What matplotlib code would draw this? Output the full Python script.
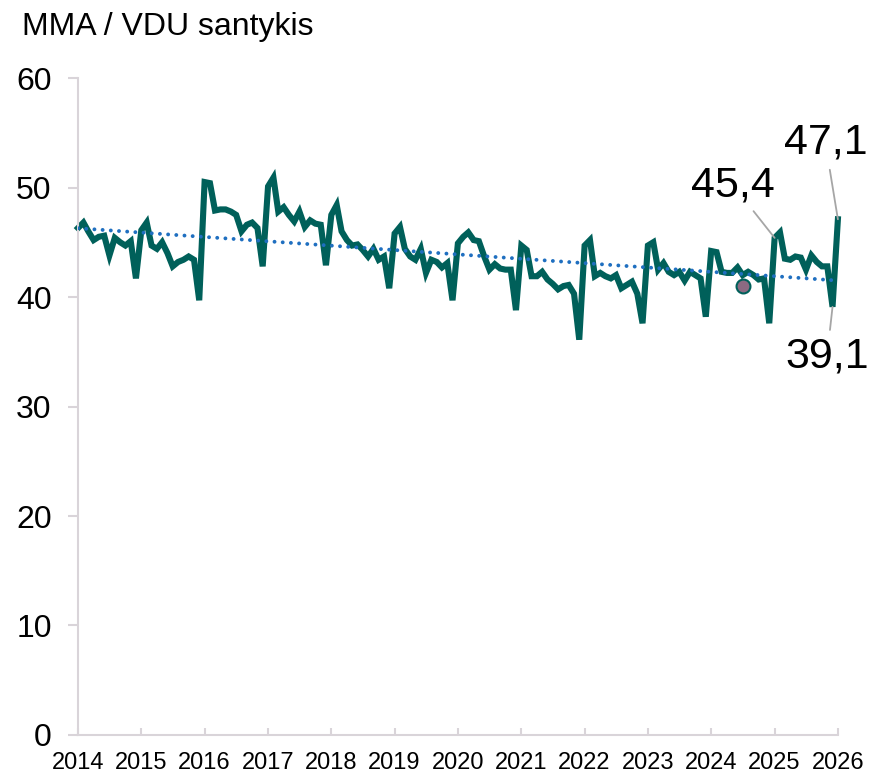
import matplotlib
matplotlib.use('Agg')
import matplotlib.pyplot as plt
import matplotlib.dates as mdates
import numpy as np
import pandas as pd

plt.rcParams['font.family'] = ['Liberation Sans', 'DejaVu Sans']

# monthly ratio, Jan 2014 .. Jan 2026
y2014 = [46.3, 46.8, 46.0, 45.2, 45.5, 45.6, 43.8, 45.4, 45.0, 44.7, 45.1, 41.7]
y2015 = [46.1, 46.8, 44.7, 44.4, 45.0, 44.0, 42.8, 43.2, 43.4, 43.7, 43.4, 39.7]
y2016 = [50.5, 50.4, 47.9, 48.0, 48.0, 47.8, 47.5, 46.0, 46.6, 46.8, 46.3, 42.8]
y2017 = [50.1, 50.9, 47.8, 48.2, 47.5, 46.9, 47.8, 46.4, 47.0, 46.7, 46.6, 42.9]
y2018 = [47.5, 48.4, 46.0, 45.2, 44.7, 44.8, 44.3, 43.7, 44.4, 43.4, 43.7, 40.8]
y2019 = [45.8, 46.4, 44.4, 43.7, 43.4, 44.4, 42.2, 43.4, 43.2, 42.7, 43.1, 39.7]
y2020 = [44.9, 45.5, 45.9, 45.2, 45.1, 43.7, 42.5, 43.0, 42.6, 42.5, 42.5, 38.8]
y2021 = [44.7, 44.3, 41.9, 41.9, 42.3, 41.6, 41.2, 40.7, 41.0, 41.1, 40.3, 36.1]
y2022 = [44.7, 45.2, 41.9, 42.2, 41.9, 41.7, 42.0, 40.8, 41.1, 41.4, 40.3, 37.6]
y2023 = [44.7, 45.0, 42.5, 43.1, 42.3, 42.0, 42.3, 41.5, 42.3, 42.0, 41.7, 38.2]
y2024 = [44.2, 44.1, 42.3, 42.2, 42.2, 42.7, 42.0, 42.3, 42.0, 41.6, 41.7, 37.6]
y2025 = [45.4, 45.9, 43.5, 43.4, 43.7, 43.6, 42.5, 43.8, 43.2, 42.8, 42.8, 39.1]
y2026 = [47.1]

values = np.array(y2014 + y2015 + y2016 + y2017 + y2018 + y2019 + y2020 +
                  y2021 + y2022 + y2023 + y2024 + y2025 + y2026)
dates = pd.date_range('2014-01-01', periods=len(values), freq='MS')

# highlighted single point
mark_date = pd.Timestamp('2024-07-01')
mark_value = 41.0

# labelled points
labels = [('2025-01-01', 45.4, '45,4'), ('2026-01-01', 47.1, '47,1'), ('2025-12-01', 39.1, '39,1')]
label_offsets = [(-30, 38), (-9, 55), (-4, -36)]

# linear trend (like Excel trendline)
idx = np.arange(len(values))
k, b = np.polyfit(idx, values, 1)
trend = k * idx + b

teal = '#00605A'
axis_gray = '#D9D4D9'

fig = plt.figure(figsize=(8.71, 7.74), dpi=100)
ax = fig.add_axes([0.0896, 0.0504, 0.8724, 0.8488])

ax.plot(dates, trend, color='#1F6FC0', lw=2.8, linestyle=(0, (0.01, 2.1)),
        dash_capstyle='round', zorder=3)
ax.plot(dates, values, color=teal, lw=4.4, solid_joinstyle='miter', zorder=2, clip_on=False)
ax.plot([mark_date], [mark_value], 'o', ms=10, mfc='#8C6A82', mec=teal, mew=1.5, zorder=4)

for (d, v, t), off in zip(labels, label_offsets):
    ax.annotate(t, xy=(pd.Timestamp(d), v), xytext=off, textcoords='offset points',
                ha='center', va='center', fontsize=31,
                arrowprops=dict(arrowstyle='-', color='#A6A6A6', lw=1.3, shrinkA=3, shrinkB=0))

ax.set_ylim(0, 60)
ax.set_yticks(range(0, 61, 10))
ax.set_xlim(dates[0], dates[-1])
ax.xaxis.set_major_locator(mdates.YearLocator())
ax.xaxis.set_major_formatter(mdates.DateFormatter('%Y'))

for s in ['top', 'right']:
    ax.spines[s].set_visible(False)
for s in ['left', 'bottom']:
    ax.spines[s].set_color(axis_gray)
    ax.spines[s].set_linewidth(1.5)

ax.tick_params(axis='y', direction='out', length=7, width=1.5, color=axis_gray,
               labelsize=23, pad=12)
ax.tick_params(axis='x', direction='in', length=5, width=1.5, color=axis_gray,
               labelsize=17, pad=12)

fig.text(0.025, 0.965, 'MMA / VDU santykis', fontsize=23, ha='left', va='center')

fig.savefig('out.png', dpi=100)
